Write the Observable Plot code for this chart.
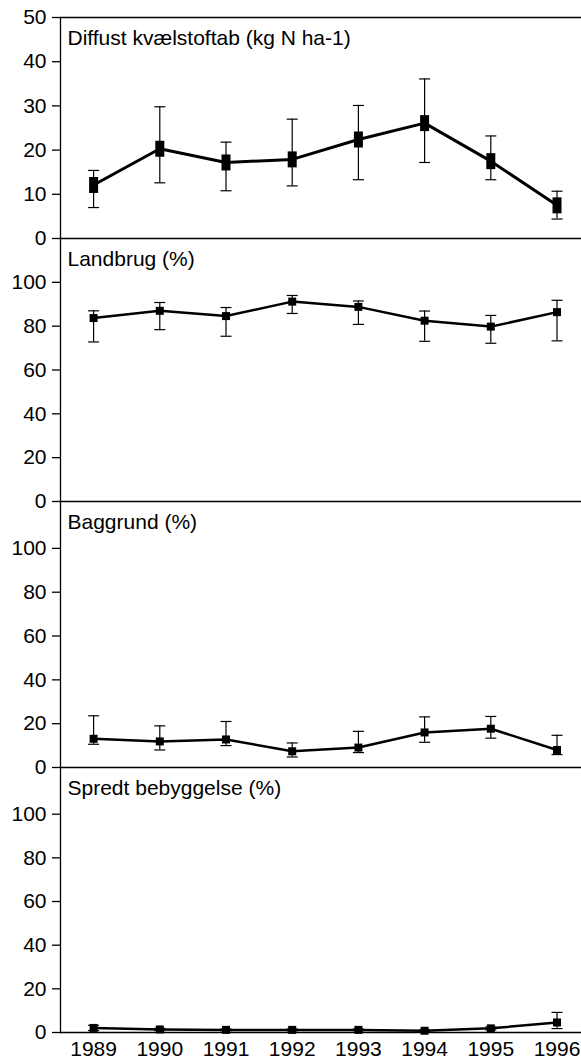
<!DOCTYPE html>
<html>
<head>
<meta charset="utf-8">
<script src="https://cdn.jsdelivr.net/npm/d3@7"></script>
<script src="https://cdn.jsdelivr.net/npm/@observablehq/plot@0.6"></script>
<style>
  html, body { margin: 0; padding: 0; background: #fff; }
  #chart { position: relative; width: 581px; height: 1059px; }
  #chart svg { position: absolute; left: 0; overflow: visible; }
</style>
</head>
<body>
<div id="chart"></div>
<script>
// Measurement years
const years = [1989, 1990, 1991, 1992, 1993, 1994, 1995, 1996];

// Diffust kvælstoftab (kg N ha-1): mean and error-bar ends
const nitrogenLoss     = [12.1, 20.3, 17.2, 17.9, 22.4, 26.1, 17.5, 7.5];
const nitrogenLossHigh = [15.4, 29.8, 21.8, 27.0, 30.1, 36.1, 23.2, 10.7];
const nitrogenLossLow  = [7.0, 12.6, 10.8, 11.9, 13.3, 17.2, 13.3, 4.4];

// Landbrug (%)
const farmland     = [83.7, 87.0, 84.6, 91.2, 88.8, 82.5, 79.8, 86.4];
const farmlandHigh = [87.0, 90.8, 88.5, 94.0, 91.5, 86.9, 84.9, 91.8];
const farmlandLow  = [72.8, 78.4, 75.4, 85.8, 80.8, 73.1, 72.2, 73.3];

// Baggrund (%)
const background     = [13.1, 11.9, 12.8, 7.4, 9.1, 16.0, 17.7, 8.0];
const backgroundHigh = [23.6, 19.0, 21.0, 11.2, 16.5, 23.1, 23.3, 14.7];
const backgroundLow  = [10.6, 8.0, 10.0, 4.8, 6.8, 11.5, 13.4, 5.9];

// Spredt bebyggelse (%)
const scattered     = [2.1, 1.4, 1.2, 1.2, 1.2, 0.8, 1.9, 4.6];
const scatteredHigh = [3.3, 1.9, 1.6, 1.6, 1.6, 1.2, 2.5, 9.2];
const scatteredLow  = [0.9, 0.9, 0.8, 0.8, 0.8, 0.4, 1.2, 1.8];

// Panel titles and y ticks
const titles = ["Diffust kvælstoftab (kg N ha-1)", "Landbrug (%)", "Baggrund (%)", "Spredt bebyggelse (%)"];
const lossTicks = [0, 10, 20, 30, 40, 50];
const shareTicks = [0, 20, 40, 60, 80, 100];

const FONT = "'Liberation Sans', Arial, Helvetica, sans-serif";
const X_DOMAIN = [1988.5, 1996.37];

// Filled rectangle marker and a horizontal error-bar cap, as symbol objects
const rectSymbol = (w, h) => ({
  draw(ctx) {
    ctx.moveTo(-w / 2, -h / 2);
    ctx.lineTo(w / 2, -h / 2);
    ctx.lineTo(w / 2, h / 2);
    ctx.lineTo(-w / 2, h / 2);
    ctx.closePath();
  }
});
const capSymbol = {
  draw(ctx) {
    ctx.moveTo(-5.5, 0);
    ctx.lineTo(5.5, 0);
  }
};

function rows(mean, high, low) {
  return years.map((year, i) => ({year, mean: mean[i], high: high[i], low: low[i]}));
}

function panel({data, title, yDomain, yTicks, top, height, marginTop = 0, marginBottom = 0,
                showX = false, marker, lineWidth, topRule = false}) {
  const marks = [
    Plot.frame({anchor: "left", stroke: "#000", strokeWidth: 1.3}),
    Plot.ruleY([0], {stroke: "#000", strokeWidth: 1.3}),
    Plot.axisY({ticks: yTicks, tickSize: 8, tickPadding: 6, label: null,
                tickFormat: d => String(d), strokeWidth: 1.3, fill: "#000"}),
    Plot.ruleX(data, {x: "year", y1: "low", y2: "high", stroke: "#000", strokeWidth: 1.2}),
    Plot.dot(data, {x: "year", y: "high", symbol: capSymbol, fill: "none", stroke: "#000", strokeWidth: 1.2}),
    Plot.dot(data, {x: "year", y: "low", symbol: capSymbol, fill: "none", stroke: "#000", strokeWidth: 1.2}),
    Plot.line(data, {x: "year", y: "mean", stroke: "#000", strokeWidth: lineWidth}),
    Plot.dot(data, {x: "year", y: "mean", symbol: marker, fill: "#000", stroke: "none"}),
    Plot.text([title], {text: d => d, frameAnchor: "top-left", dx: 7, dy: 13,
                        lineAnchor: "top", textAnchor: "start", fill: "#000"})
  ];
  if (topRule) marks.push(Plot.ruleY([yDomain[1]], {stroke: "#000", strokeWidth: 1.3}));
  if (showX) marks.push(Plot.axisX({ticks: years, tickSize: 0, tickPadding: 9,
                                     tickFormat: d => String(d), label: null, fill: "#000"}));
  const svg = Plot.plot({
    width: 581,
    height,
    marginLeft: 60,
    marginRight: 0,
    marginTop,
    marginBottom,
    style: {fontFamily: FONT, fontSize: "21px", color: "#000", background: "transparent", overflow: "visible"},
    x: {domain: X_DOMAIN, axis: null},
    y: {domain: yDomain, axis: null},
    marks
  });
  svg.style.top = top + "px";
  return svg;
}

const chart = document.getElementById("chart");

chart.append(panel({
  data: rows(nitrogenLoss, nitrogenLossHigh, nitrogenLossLow),
  title: titles[0], yDomain: [0, 50], yTicks: lossTicks,
  top: 0, height: 238, marginTop: 17,
  marker: rectSymbol(9, 16), lineWidth: 3, topRule: true
}));
chart.append(panel({
  data: rows(farmland, farmlandHigh, farmlandLow),
  title: titles[1], yDomain: [0, 120], yTicks: shareTicks,
  top: 238, height: 263,
  marker: rectSymbol(8, 8), lineWidth: 2.5
}));
chart.append(panel({
  data: rows(background, backgroundHigh, backgroundLow),
  title: titles[2], yDomain: [0, 121.4], yTicks: shareTicks,
  top: 501, height: 266,
  marker: rectSymbol(8, 8), lineWidth: 2.5
}));
chart.append(panel({
  data: rows(scattered, scatteredHigh, scatteredLow),
  title: titles[3], yDomain: [0, 121.4], yTicks: shareTicks,
  top: 767, height: 292, marginBottom: 27,
  marker: rectSymbol(8, 8), lineWidth: 2.5, showX: true
}));
</script>
</body>
</html>
